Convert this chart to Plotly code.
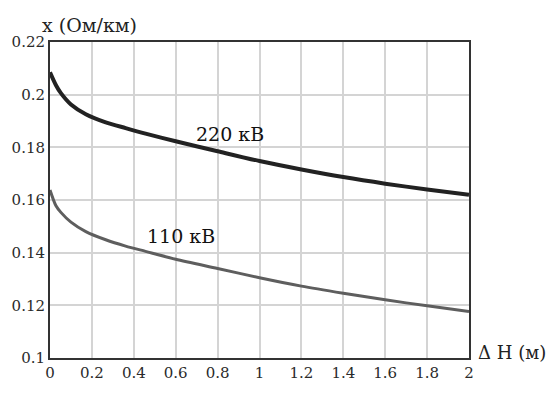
import plotly.graph_objects as go

dh = [0.0, 0.0285, 0.052, 0.1, 0.171, 0.266, 0.361, 0.456, 0.6, 0.8, 1.0, 1.2, 1.4, 1.6, 1.8, 2.0]
x220 = [0.2085, 0.2036, 0.2006, 0.1963, 0.1926, 0.1895, 0.1873, 0.1852, 0.1823, 0.1785, 0.1748, 0.1716, 0.1687, 0.1662, 0.1640, 0.1620]
x110 = [0.1638, 0.1578, 0.1553, 0.1516, 0.1480, 0.1449, 0.1425, 0.1405, 0.1375, 0.1340, 0.1305, 0.1273, 0.1246, 0.1221, 0.1198, 0.1177]

x_ticks = [0, 0.2, 0.4, 0.6, 0.8, 1, 1.2, 1.4, 1.6, 1.8, 2]
x_tick_text = ["0", "0.2", "0.4", "0.6", "0.8", "1", "1.2", "1.4", "1.6", "1.8", "2"]
y_ticks = [0.1, 0.12, 0.14, 0.16, 0.18, 0.2, 0.22]
y_tick_text = ["0.1", "0.12", "0.14", "0.16", "0.18", "0.2", "0.22"]

font_family = "DejaVu Serif"

fig = go.Figure()
fig.add_trace(go.Scatter(x=dh, y=x220, mode="lines",
                         line=dict(color="#222222", width=4, shape="spline", smoothing=0.8),
                         name="220 кВ", showlegend=False))
fig.add_trace(go.Scatter(x=dh, y=x110, mode="lines",
                         line=dict(color="#5e5e5e", width=3, shape="spline", smoothing=0.8),
                         name="110 кВ", showlegend=False))

axis_common = dict(showgrid=True, gridcolor="#d4d4d4", gridwidth=2,
                   showline=True, linecolor="#333333", linewidth=2, mirror=True,
                   zeroline=False, ticks="",
                   tickfont=dict(size=15, family=font_family, color="#2a2a2a"))

fig.update_layout(
    width=554, height=394,
    margin=dict(l=48, r=85, t=42, b=25),
    paper_bgcolor="white", plot_bgcolor="white",
    font=dict(family=font_family, color="#222222", size=15),
    xaxis=dict(range=[0, 2], tickmode="array", tickvals=x_ticks, ticktext=x_tick_text, **axis_common),
    yaxis=dict(range=[0.1, 0.22], tickmode="array", tickvals=y_ticks, ticktext=y_tick_text, **axis_common),
    annotations=[
        dict(text="x (Ом/км)", x=0.095, y=1.0, xref="x domain", yref="y domain",
             xanchor="center", yanchor="bottom", yshift=4, showarrow=False,
             font=dict(size=19, family=font_family, color="#222222")),
        dict(text="Δ H (м)", x=1.0, y=0.0, xref="x domain", yref="y domain",
             xanchor="left", yanchor="middle", xshift=7, yshift=6, showarrow=False,
             font=dict(size=18, family=font_family, color="#222222")),
        dict(text="220 кВ", x=0.86, y=0.1851, xref="x", yref="y",
             xanchor="center", yanchor="middle", showarrow=False,
             font=dict(size=19, family=font_family, color="#111111")),
        dict(text="110 кВ", x=0.627, y=0.1462, xref="x", yref="y",
             xanchor="center", yanchor="middle", showarrow=False,
             font=dict(size=19, family=font_family, color="#111111")),
    ],
)

fig.write_html("out.html")
